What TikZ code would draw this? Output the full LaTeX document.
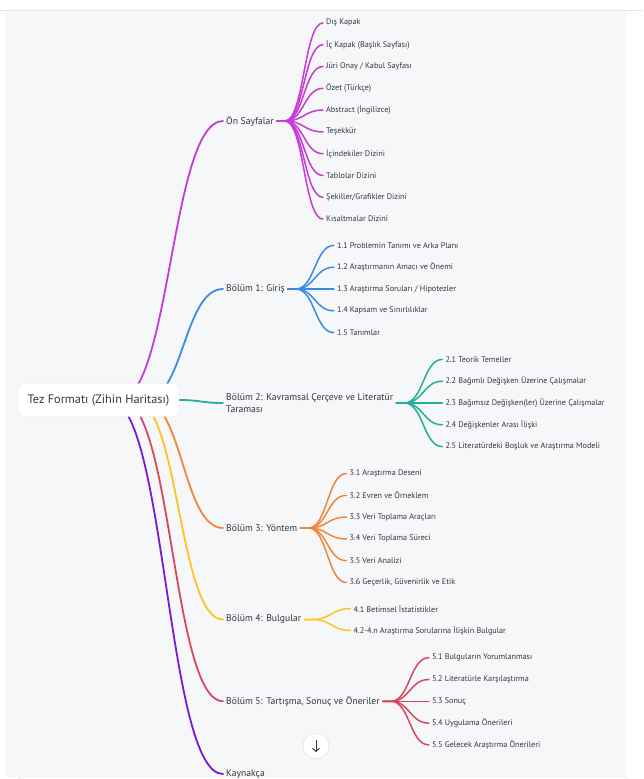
\documentclass[tikz,border=0pt]{standalone}
\usepackage{fontspec}
\setmainfont{PT Sans}
\usetikzlibrary{positioning,arrows.meta,backgrounds}

\definecolor{cmag}{RGB}{200,58,214}
\definecolor{cblue}{RGB}{58,140,224}
\definecolor{cteal}{RGB}{32,176,152}
\definecolor{corange}{RGB}{240,134,58}
\definecolor{cyellow}{RGB}{252,196,36}
\definecolor{cred}{RGB}{216,72,92}
\definecolor{cpurple}{RGB}{118,28,212}
\definecolor{ctext}{RGB}{50,55,63}
\definecolor{cpanel}{RGB}{246,247,249}
\definecolor{cedge}{RGB}{228,230,234}

\begin{document}
\begin{tikzpicture}[
    x=1pt, y=-1pt,
    rootbox/.style={rectangle, rounded corners=4pt, fill=white, draw=cedge, line width=0.4pt,
      minimum width=161pt, minimum height=33pt, font=\fontsize{12.3}{14}\selectfont, text=ctext},
    topic/.style={anchor=west, inner xsep=3pt, inner ysep=1pt, align=left,
      font=\fontsize{9.65}{12.3}\selectfont, text=ctext},
    leaf/.style={inner xsep=3pt, inner ysep=1pt, font=\fontsize{8.15}{9}\selectfont, text=ctext},
    link/.style={line width=1.8pt, line cap=round},
    sub/.style={line width=1.5pt, line cap=round}
  ]
  \useasboundingbox (0,0) rectangle (643,779);

  % page and panel
  \begin{scope}[on background layer]
    \fill[white] (0,0) rectangle (643,779);
    \fill[cpanel] (5,11) rectangle (626,777);
    \draw[cedge] (0,10.5) -- (643,10.5);
    \draw[cedge, fill=white, rounded corners=6pt] (17,777) rectangle (630,800);
  \end{scope}

  % main topics
  \node[rootbox] (root) at (98.5,400) {Tez Formatı (Zihin Haritası)};
  \node[topic] (on) at (223,121) {Ön Sayfalar};
  \node[topic] (b1) at (223,289) {Bölüm 1: Giriş};
  \node[topic] (b2) at (223,403) {Bölüm 2: Kavramsal Çerçeve ve Literatür\\Taraması};
  \node[topic] (b3) at (223,528) {Bölüm 3: Yöntem};
  \node[topic] (b4) at (223,619.5) {Bölüm 4: Bulgular};
  \node[topic] (b5) at (223,701.3) {Bölüm 5: Tartışma, Sonuç ve Öneriler};
  \node[topic] (kay) at (223,774) {Kaynakça};

  % sub topics
  \foreach \t [count=\i] in {Dış Kapak, İç Kapak (Başlık Sayfası), Jüri Onay / Kabul Sayfası,
      Özet (Türkçe), Abstract (İngilizce), Teşekkür, İçindekiler Dizini, Tablolar Dizini,
      Şekiller/Grafikler Dizini, Kısaltmalar Dizini}
    \node[leaf, right=46pt of on, yshift={(5.5-\i)*21.8pt}] (on\i) {\t};
  \foreach \t [count=\i] in {1.1 Problemin Tanımı ve Arka Planı, 1.2 Araştırmanın Amacı ve Önemi,
      1.3 Araştırma Soruları / Hipotezler, 1.4 Kapsam ve Sınırlılıklar, 1.5 Tanımlar}
    \node[leaf, right=46pt of b1, yshift={(3-\i)*21.8pt}] (b1\i) {\t};
  \foreach \t [count=\i] in {2.1 Teorik Temeller, 2.2 Bağımlı Değişken Üzerine Çalışmalar,
      2.3 Bağımsız Değişken(ler) Üzerine Çalışmalar, 2.4 Değişkenler Arası İlişki,
      2.5 Literatürdeki Boşluk ve Araştırma Modeli}
    \node[leaf, right=46pt of b2, yshift={(3-\i)*21.8pt}] (b2\i) {\t};
  \foreach \t [count=\i] in {3.1 Araştırma Deseni, 3.2 Evren ve Örneklem, 3.3 Veri Toplama Araçları,
      3.4 Veri Toplama Süreci, 3.5 Veri Analizi, {3.6 Geçerlik, Güvenirlik ve Etik}}
    \node[leaf, right=46pt of b3, yshift={(3.5-\i)*21.8pt}] (b3\i) {\t};
  \foreach \t [count=\i] in {4.1 Betimsel İstatistikler, 4.2-4.n Araştırma Sorularına İlişkin Bulgular}
    \node[leaf, right=46pt of b4, yshift={(1.5-\i)*21.8pt}] (b4\i) {\t};
  \foreach \t [count=\i] in {5.1 Bulguların Yorumlanması, 5.2 Literatürle Karşılaştırma, 5.3 Sonuç,
      5.4 Uygulama Önerileri, 5.5 Gelecek Araştırma Önerileri}
    \node[leaf, right=46pt of b5, yshift={(3-\i)*21.8pt}] (b5\i) {\t};

  % scroll button
  \node[circle, fill=white, draw=cedge, line width=0.8pt, minimum size=26pt] (down) at (316,746) {};
  \draw[-{Straight Barb[length=3pt,width=7pt]}, line width=1pt, ctext]
    ([yshift=6pt]down.center) -- ([yshift=-6pt]down.center);

  % links
  \begin{scope}[on background layer]
    \foreach \n/\dx/\c in {on/20/cmag, b1/46/cblue, b3/44/corange, b4/36/cyellow, b5/23/cred, kay/11/cpurple}
      \draw[link, \c] ([xshift=\dx pt]root.center)
        .. controls +({(124.5-\dx)/2},0) and +({-(124.5-\dx)/2},0) .. (\n.west);
    \draw[link, cteal] (root.east) .. controls +(22,0) and +(-22,0) .. (b2.west);

    \foreach \i in {1,...,10}
      \draw[sub, cmag] (on.east) -- ++(8,0) .. controls +(19,0) and +(-19,0) .. (on\i.west);
    \foreach \i in {1,...,5}
      \draw[sub, cblue] (b1.east) -- ++(8,0) .. controls +(19,0) and +(-19,0) .. (b1\i.west);
    \foreach \i in {1,...,5}
      \draw[sub, cteal] (b2.east) -- ++(8,0) .. controls +(19,0) and +(-19,0) .. (b2\i.west);
    \foreach \i in {1,...,6}
      \draw[sub, corange] (b3.east) -- ++(8,0) .. controls +(19,0) and +(-19,0) .. (b3\i.west);
    \foreach \i in {1,2}
      \draw[sub, cyellow] (b4.east) -- ++(8,0) .. controls +(19,0) and +(-19,0) .. (b4\i.west);
    \foreach \i in {1,...,5}
      \draw[sub, cred] (b5.east) -- ++(8,0) .. controls +(19,0) and +(-19,0) .. (b5\i.west);
  \end{scope}
\end{tikzpicture}
\end{document}
